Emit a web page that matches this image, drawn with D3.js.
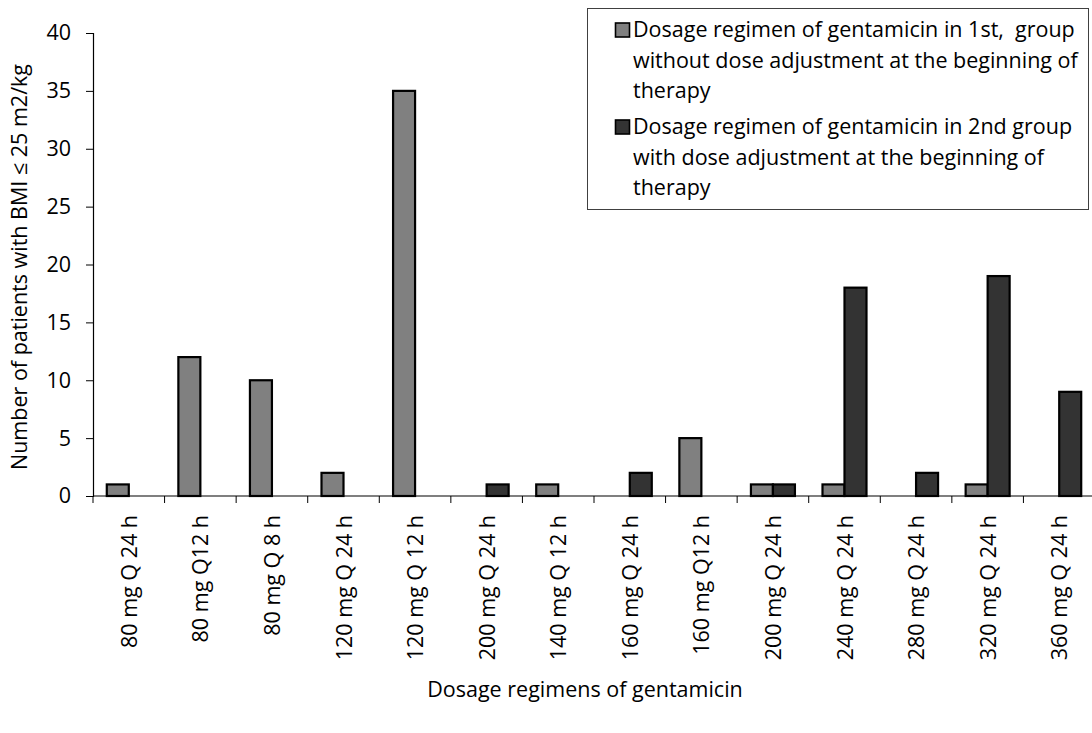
<!DOCTYPE html>
<html><head><meta charset="utf-8">
<script src="https://cdn.jsdelivr.net/npm/d3@7"></script>
<style>body{margin:0;background:#fff}svg{display:block;font-family:"Open Sans",Lato,sans-serif}text{white-space:pre}</style>
</head><body><svg id="c" width="1092" height="733"></svg>
<script>
const categories = ["80 mg Q 24 h","80 mg Q12 h","80 mg Q 8 h","120 mg Q 24 h","120 mg Q 12 h","200 mg Q 24 h","140 mg Q 12 h","160 mg Q 24 h","160 mg Q12 h","200 mg Q 24 h","240 mg Q 24 h","280 mg Q 24 h","320 mg Q 24 h","360 mg Q 24 h"];
const group1 = [1,12,10,2,35,0,1,0,5,1,1,0,1,0];
const group2 = [0,0,0,0,0,1,0,2,0,1,18,2,19,9];
const legendLines = [["Dosage regimen of gentamicin in 1st,  group","without dose adjustment at the beginning of","therapy"],["Dosage regimen of gentamicin in 2nd group","with dose adjustment at the beginning of","therapy"]];
const colors = ["#808080","#333333"];
const yTicks = [0,5,10,15,20,25,30,35,40];

const FS = 21.5;
const svg = d3.select("#c");
const x0 = 93, x1 = 1095, y0 = 496, y1 = 33;
const x = d3.scaleBand().domain(d3.range(categories.length)).range([x0,x1]).paddingInner(0).paddingOuter(0);
const xs = d3.scaleBand().domain([0,1]).range([0,x.bandwidth()]).paddingInner(0).paddingOuter(0.627);
const y = d3.scaleLinear().domain([0,40]).range([y0,y1]);

// y axis
const ya = svg.append("g").attr("transform",`translate(${x0},0)`)
  .call(d3.axisLeft(y).tickValues(yTicks).tickSize(7).tickPadding(15));
ya.select(".domain").attr("stroke","#000").attr("stroke-width",1.2);
ya.selectAll(".tick line").attr("stroke","#000");
ya.selectAll(".tick text").attr("font-size",FS).attr("fill","#000").attr("font-family","'Open Sans',sans-serif");

// bars
const data = categories.map((c,i)=>({i, vals:[group1[i],group2[i]]}));
const g = svg.append("g");
data.forEach(d=>{
  d.vals.forEach((v,s)=>{
    if(v<=0) return;
    g.append("rect")
      .attr("x", x(d.i)+xs(s))
      .attr("y", y(v))
      .attr("width", xs.bandwidth())
      .attr("height", y(0)-y(v))
      .attr("fill", colors[s]).attr("stroke","#000").attr("stroke-width",2.2);
  });
});

// x axis
const xa = svg.append("g").attr("transform",`translate(0,${y0})`);
xa.append("line").attr("x1",x0).attr("x2",x1).attr("stroke","#000").attr("stroke-width",1.2);
xa.selectAll("line.tk").data(d3.range(categories.length+1)).join("line").attr("class","tk")
  .attr("x1",i=>x0+i*x.step()).attr("x2",i=>x0+i*x.step()).attr("y1",0).attr("y2",7).attr("stroke","#000");
xa.selectAll("text").data(categories).join("text")
  .attr("transform",(c,i)=>`translate(${x(i)+x.bandwidth()/2+8},19) rotate(-90)`)
  .attr("text-anchor","end").attr("font-size",FS).attr("fill","#000").text(c=>c);

// axis titles
svg.append("text").attr("x",585).attr("y",697).attr("text-anchor","middle").attr("font-size",FS).text("Dosage regimens of gentamicin");
svg.append("text").attr("transform","translate(27,267) rotate(-90)").attr("text-anchor","middle").attr("font-size",FS).text("Number of patients with BMI ≤ 25 m2/kg");

// legend
const lg = svg.append("g");
lg.append("rect").attr("x",587.5).attr("y",8.5).attr("width",501).attr("height",201).attr("fill","#fff").attr("stroke","#404040").attr("stroke-width",1);
legendLines.forEach((lines,s)=>{
  const top = 37 + s*97;
  lg.append("rect").attr("x",615.5).attr("y",top-14).attr("width",14).attr("height",14).attr("fill",colors[s]).attr("stroke","#000").attr("stroke-width",1.6);
  lines.forEach((t,k)=>{
    lg.append("text").attr("x",633).attr("y",top+k*30.5).attr("font-size",FS).attr("fill","#000").text(t);
  });
});
</script></body></html>
